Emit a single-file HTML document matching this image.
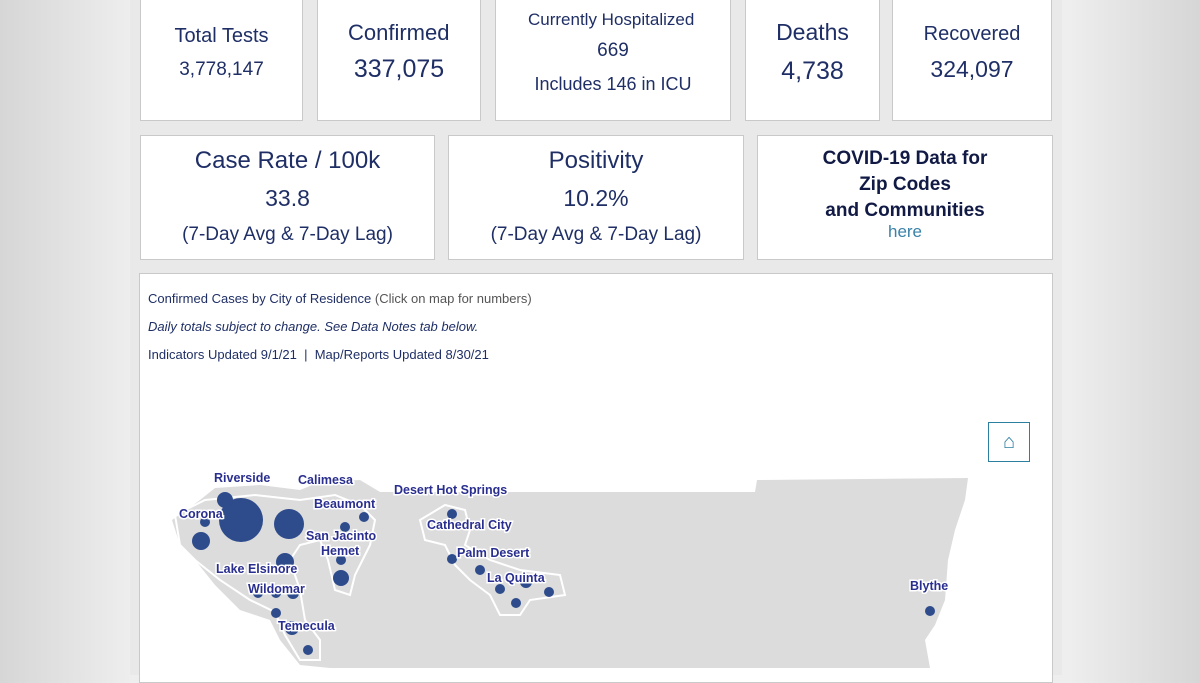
<!DOCTYPE html>
<html><head><meta charset="utf-8"><style>
body{margin:0;width:1200px;height:675px;overflow:hidden;background:linear-gradient(90deg,#d6d6d6 0%,#eeeeee 11%,#eeeeee 89%,#d6d6d6 100%);font-family:"Liberation Sans",sans-serif;position:relative}
.pan{position:absolute;left:130px;top:0;width:932px;height:675px;background:#e9e9e9}
.b{position:absolute;background:#fff;border:1px solid #c9c9c9;box-sizing:border-box;text-align:center;color:#1f2f66;overflow:hidden;white-space:nowrap}
.t{position:absolute;left:0;right:0}
</style></head><body>
<div class="pan"></div>
<div class="b" style="left:140px;top:-2px;width:163px;height:123px"><div class="t" style="top:26px;font-size:20px">Total Tests</div><div class="t" style="top:60px;font-size:19px">3,778,147</div></div>
<div class="b" style="left:317px;top:-2px;width:164px;height:123px"><div class="t" style="top:21px;font-size:22px;text-align:left;padding-left:30px">Confirmed</div><div class="t" style="top:56px;font-size:25px">337,075</div></div>
<div class="b" style="left:495px;top:-2px;width:236px;height:123px"><div class="t" style="top:11px;font-size:17px;text-align:left;padding-left:32px">Currently Hospitalized</div><div class="t" style="top:41px;font-size:19px">669</div><div class="t" style="top:75px;font-size:18px">Includes 146 in ICU</div></div>
<div class="b" style="left:745px;top:-2px;width:135px;height:123px"><div class="t" style="top:20px;font-size:23px">Deaths</div><div class="t" style="top:58px;font-size:25px">4,738</div></div>
<div class="b" style="left:892px;top:-2px;width:160px;height:123px"><div class="t" style="top:24px;font-size:20px">Recovered</div><div class="t" style="top:57px;font-size:23px">324,097</div></div>
<div class="b" style="left:140px;top:135px;width:295px;height:125px"><div class="t" style="top:11px;font-size:24px">Case Rate / 100k</div><div class="t" style="top:49px;font-size:23px">33.8</div><div class="t" style="top:88px;font-size:19px">(7-Day Avg &amp; 7-Day Lag)</div></div>
<div class="b" style="left:448px;top:135px;width:296px;height:125px"><div class="t" style="top:11px;font-size:24px">Positivity</div><div class="t" style="top:49px;font-size:23px">10.2%</div><div class="t" style="top:88px;font-size:19px">(7-Day Avg &amp; 7-Day Lag)</div></div>
<div class="b" style="left:757px;top:135px;width:296px;height:125px"><div class="t" style="top:10px;font-size:19px;font-weight:bold;line-height:26px;color:#111a44">COVID-19 Data for<br>Zip Codes<br>and Communities</div><div class="t" style="top:86px;font-size:17px;color:#3a82a8">here</div></div>
<div class="b" style="left:139px;top:273px;width:914px;height:410px;text-align:left;color:#1f2f66">
<div style="position:absolute;left:8px;top:17px;font-size:13px">Confirmed Cases by City of Residence <span style="color:#555">(Click on map for numbers)</span></div>
<div style="position:absolute;left:8px;top:45px;font-size:13px;font-style:italic">Daily totals subject to change. See Data Notes tab below.</div>
<div style="position:absolute;left:8px;top:73px;font-size:13px">Indicators Updated 9/1/21 &nbsp;|&nbsp; Map/Reports Updated 8/30/21</div>
<div style="position:absolute;left:848px;top:148px;width:42px;height:40px;border:1px solid #2d7fa0;box-sizing:border-box;color:#2d7fa0;font-size:20px;text-align:center;line-height:38px">⌂</div>
</div>
<svg style="position:absolute;left:0;top:0" width="1200" height="675">
<polygon fill="#dcdcdc" points="172,520 200,500 215,488 260,485 300,490 320,482 360,480 380,492 755,492 757,480 968,478 965,500 955,530 948,560 945,600 935,625 925,640 930,668 330,668 300,665 280,640 270,620 240,610 215,585 195,560 180,545"/>
<g fill="none" stroke="#fff" stroke-width="2">
<path d="M175,515 L205,500 L255,495 L300,500 L335,495 L360,505 L375,520 L370,545 L355,575 L350,595 L335,590 L328,560 L320,540 L300,545 L290,560 L300,590 L305,620 L320,640 L320,660 L300,660 L285,635 L275,612 L250,600 L220,580 L195,560 L180,545Z"/>
<path d="M420,520 L445,505 L465,510 L470,530 L465,545 L490,560 L520,570 L560,575 L565,595 L530,600 L520,615 L500,615 L490,595 L470,580 L455,565 L445,545 L425,540Z"/>
</g>
<g fill="#2e4b8b">
<circle cx="241" cy="520" r="22"/><circle cx="289" cy="524" r="15"/><circle cx="225" cy="500" r="8"/><circle cx="205" cy="522" r="5"/><circle cx="201" cy="541" r="9"/>
<circle cx="285" cy="562" r="9"/><circle cx="341" cy="578" r="8"/><circle cx="341" cy="560" r="5"/><circle cx="345" cy="527" r="5"/><circle cx="364" cy="517" r="5"/>
<circle cx="258" cy="593" r="5"/><circle cx="276" cy="593" r="5"/><circle cx="293" cy="593" r="6"/><circle cx="276" cy="613" r="5"/><circle cx="292" cy="628" r="7"/><circle cx="308" cy="650" r="5"/>
<circle cx="452" cy="514" r="5"/><circle cx="452" cy="559" r="5"/><circle cx="480" cy="570" r="5"/><circle cx="500" cy="589" r="5"/><circle cx="526" cy="582" r="6"/><circle cx="549" cy="592" r="5"/><circle cx="516" cy="603" r="5"/><circle cx="930" cy="611" r="5"/>
</g>
<g font-family="Liberation Sans,sans-serif" font-weight="bold" font-size="12.5" fill="#2a2f8f" stroke="#fff" stroke-width="3" paint-order="stroke">
<text x="214" y="482">Riverside</text><text x="298" y="484">Calimesa</text><text x="394" y="494">Desert Hot Springs</text><text x="314" y="508">Beaumont</text><text x="179" y="518">Corona</text><text x="427" y="529">Cathedral City</text><text x="306" y="540">San Jacinto</text><text x="321" y="555">Hemet</text><text x="457" y="557">Palm Desert</text><text x="216" y="573">Lake Elsinore</text><text x="487" y="582">La Quinta</text><text x="248" y="593">Wildomar</text><text x="910" y="590">Blythe</text><text x="278" y="630">Temecula</text>
</g>
</svg>
</body></html>
